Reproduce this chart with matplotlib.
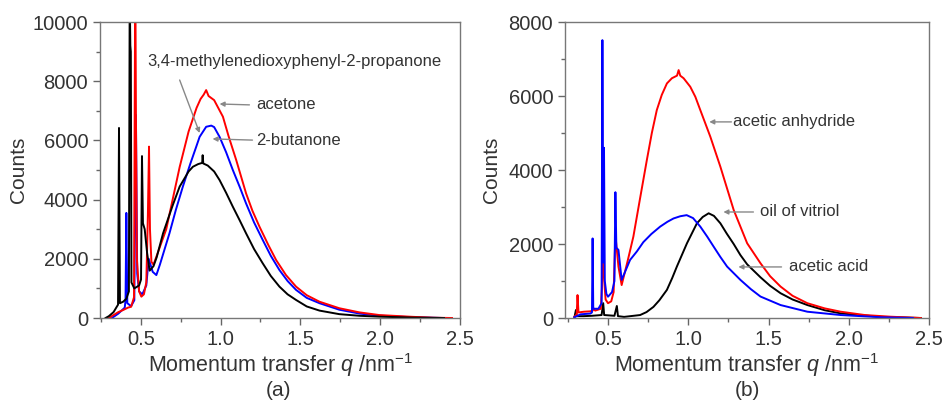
import matplotlib
matplotlib.use("Agg")
import matplotlib.pyplot as plt
from matplotlib.ticker import MultipleLocator, FormatStrFormatter

plt.rcParams['font.family'] = ['Liberation Sans', 'DejaVu Sans']
plt.rcParams['mathtext.fontset'] = 'custom'
plt.rcParams['mathtext.rm'] = 'Liberation Sans'
plt.rcParams['mathtext.it'] = 'Liberation Sans:italic'

# ---------------- Panel (a) data ----------------
qa_black = [0.28, 0.30, 0.33, 0.35, 0.358, 0.364, 0.370, 0.39, 0.41, 0.426, 0.431, 0.435, 0.438, 0.442,
            0.46, 0.49, 0.502, 0.508, 0.514, 0.525, 0.54, 0.556, 0.58, 0.60, 0.64, 0.70, 0.744, 0.80,
            0.827, 0.86, 0.885, 0.888, 0.892, 0.92, 0.96, 0.994, 1.035, 1.077, 1.12, 1.16, 1.21, 1.264,
            1.315, 1.369, 1.42, 1.473, 1.54, 1.62, 1.744, 1.87, 1.994, 2.2, 2.4]
ca_black = [0, 60, 200, 380, 450, 6420, 500, 550, 650, 900, 11000, 9200, 9000, 1200,
            1000, 1100, 1300, 5470, 3200, 3000, 2200, 1600, 1750, 2050, 2860, 3800, 4440, 4950,
            5110, 5200, 5240, 5500, 5220, 5150, 4950, 4660, 4230, 3760, 3300, 2860, 2330, 1850,
            1420, 1060, 800, 610, 390, 250, 130, 75, 45, 15, 0]

qa_red = [0.30, 0.33, 0.36, 0.39, 0.42, 0.44, 0.458, 0.466, 0.470, 0.476, 0.49, 0.504, 0.52, 0.535,
          0.545, 0.552, 0.558, 0.567, 0.58, 0.60, 0.66, 0.70, 0.744, 0.80, 0.85, 0.875, 0.895, 0.91,
          0.925, 0.96, 1.015, 1.05, 1.098, 1.16, 1.20, 1.244, 1.30, 1.348, 1.41, 1.473, 1.54, 1.62,
          1.744, 1.87, 1.994, 2.2, 2.33, 2.45]
ca_red = [0, 100, 200, 270, 350, 380, 700, 12000, 7000, 2000, 900, 720, 800, 1200,
          3500, 5790, 3000, 1900, 1800, 2100, 3000, 4000, 5100, 6300, 7100, 7400, 7550, 7700,
          7500, 7360, 6800, 6150, 5340, 4210, 3620, 3085, 2460, 1960, 1450, 1060, 770, 550,
          330, 190, 100, 40, 10, 0]

qa_blue = [0.32, 0.36, 0.40, 0.405, 0.41, 0.416, 0.44, 0.46, 0.47, 0.478, 0.49, 0.51, 0.535, 0.55,
           0.575, 0.598, 0.62, 0.68, 0.72, 0.764, 0.81, 0.848, 0.869, 0.91, 0.942, 0.96, 0.994,
           1.035, 1.077, 1.12, 1.16, 1.21, 1.264, 1.315, 1.369, 1.42, 1.473, 1.54, 1.62, 1.744,
           1.87, 1.994, 2.2, 2.4]
ca_blue = [0, 150, 350, 600, 3550, 500, 400, 600, 6860, 1500, 900, 800, 1100, 2000,
           1560, 1450, 1800, 2860, 3650, 4440, 5200, 5790, 6120, 6460, 6500, 6450, 6120,
           5600, 5000, 4430, 3870, 3230, 2640, 2100, 1620, 1250, 950, 680, 500, 280,
           150, 80, 25, 0]

# ---------------- Panel (b) data ----------------
qb_red = [0.29, 0.305, 0.31, 0.316, 0.35, 0.39, 0.405, 0.41, 0.42, 0.455, 0.462, 0.467, 0.473, 0.485,
          0.50, 0.52, 0.535, 0.546, 0.556, 0.565, 0.585, 0.62, 0.658, 0.70, 0.742, 0.773, 0.804,
          0.835, 0.867, 0.898, 0.93, 0.94, 0.95, 0.971, 1.0125, 1.044, 1.075, 1.1375, 1.2, 1.283,
          1.367, 1.45, 1.51, 1.575, 1.65, 1.742, 1.85, 1.95, 2.1, 2.26, 2.45]
cb_red = [30, 100, 620, 150, 170, 180, 200, 260, 200, 250, 800, 2700, 1200, 500,
          400, 450, 700, 2240, 1800, 1390, 890, 1500, 2200, 3240, 4270, 5000, 5620,
          6030, 6340, 6480, 6550, 6700, 6550, 6480, 6250, 5980, 5620, 4900, 4090, 2920,
          2020, 1480, 1130, 850, 600, 400, 260, 170, 80, 35, 0]

qb_blue = [0.29, 0.33, 0.39, 0.40, 0.404, 0.408, 0.44, 0.46, 0.465, 0.471, 0.475, 0.48, 0.49, 0.50,
           0.525, 0.54, 0.546, 0.552, 0.565, 0.585, 0.6375, 0.68, 0.72, 0.77, 0.825, 0.87, 0.908,
           0.95, 0.99, 1.03, 1.075, 1.118, 1.158, 1.2, 1.242, 1.325, 1.39, 1.45, 1.575, 1.742,
           1.95, 2.2, 2.4]
cb_blue = [20, 100, 120, 150, 2150, 250, 250, 400, 7510, 1500, 4600, 1000, 650, 575,
           700, 1000, 3400, 1900, 1840, 1030, 1570, 1800, 2050, 2270, 2470, 2600, 2690,
           2750, 2780, 2700, 2470, 2200, 1930, 1650, 1390, 1030, 780, 580, 350, 170,
           80, 20, 0]

qb_black = [0.29, 0.30, 0.305, 0.35, 0.40, 0.46, 0.47, 0.476, 0.54, 0.555, 0.562, 0.60, 0.70, 0.74,
            0.783, 0.82, 0.867, 0.90, 0.929, 0.96, 0.992, 1.054, 1.09, 1.127, 1.16, 1.2, 1.24, 1.283,
            1.325, 1.367, 1.45, 1.51, 1.575, 1.65, 1.742, 1.85, 1.95, 2.2, 2.45]
cb_black = [0, 215, 50, 50, 60, 80, 400, 80, 60, 325, 50, 30, 80, 160,
            300, 480, 760, 1080, 1390, 1700, 2020, 2560, 2730, 2830, 2760, 2560, 2280, 2000,
            1700, 1450, 1100, 870, 670, 500, 350, 210, 125, 30, 0]

xlabel_text = "Momentum transfer $q$ /nm$^{-1}$"
ylabel_text = "Counts"

fig = plt.figure(figsize=(9.46, 4.0), dpi=100)
ax1 = fig.add_axes([100/946, 82/400, 360/946, 296/400])
ax2 = fig.add_axes([565/946, 82/400, 364/946, 296/400])

lw = 1.4
ax1.plot(qa_blue, ca_blue, color='#0000ff', lw=lw)
ax1.plot(qa_red, ca_red, color='#ff0000', lw=lw)
ax1.plot(qa_black, ca_black, color='#000000', lw=lw)

ax2.plot(qb_black, cb_black, color='#000000', lw=lw)
ax2.plot(qb_red, cb_red, color='#ff0000', lw=lw)
ax2.plot(qb_blue, cb_blue, color='#0000ff', lw=lw)

txtc = '#333333'
for ax, xmin, ymax, ystep in [(ax1, 0.245, 10000, 2000), (ax2, 0.232, 8000, 2000)]:
    ax.set_xlim(xmin, 2.5)
    ax.set_ylim(0, ymax)
    ax.xaxis.set_major_locator(MultipleLocator(0.5))
    ax.xaxis.set_minor_locator(MultipleLocator(0.25))
    ax.yaxis.set_major_locator(MultipleLocator(ystep))
    ax.yaxis.set_minor_locator(MultipleLocator(ystep/2))
    ax.tick_params(which='major', direction='out', length=5, width=1, color='#666666',
                   labelsize=14.5, labelcolor=txtc)
    ax.tick_params(which='minor', direction='out', length=3, width=1, color='#666666')
    ax.xaxis.set_major_formatter(FormatStrFormatter('%.1f'))
    for s in ax.spines.values():
        s.set_color('#777777')
        s.set_linewidth(1.0)
    ax.set_ylabel(ylabel_text, fontsize=15, color=txtc)

ax1.yaxis.set_label_coords(-72/360, 0.5)
ax2.yaxis.set_label_coords(-64/364, 0.5)

fig.text(280/946, 1-365/400, xlabel_text, ha='center', va='center', fontsize=15.5, color=txtc)
fig.text(278/946, 1-390/400, "(a)", ha='center', va='center', fontsize=15, color=txtc)
fig.text(746/946, 1-365/400, xlabel_text, ha='center', va='center', fontsize=15.5, color=txtc)
fig.text(747/946, 1-390/400, "(b)", ha='center', va='center', fontsize=15, color=txtc)

# annotations
afs = 12
def leader(ax, start, end):
    ax.annotate("", xy=end, xytext=start,
                arrowprops=dict(arrowstyle='-|>', color='#888888', lw=1.0,
                                mutation_scale=7, shrinkA=0, shrinkB=0))

ax1.text(0.544, 8650, "3,4-methylenedioxyphenyl-2-propanone", fontsize=afs, color=txtc, va='center')
ax1.text(1.225, 7200, "acetone", fontsize=afs, color=txtc, va='center')
ax1.text(1.225, 5980, "2-butanone", fontsize=afs, color=txtc, va='center')
leader(ax1, (1.181, 7200), (0.994, 7230))
leader(ax1, (1.20, 6010), (0.95, 6050))
leader(ax1, (0.744, 8040), (0.869, 6250))

ax2.text(1.281, 5320, "acetic anhydride", fontsize=afs, color=txtc, va='center')
ax2.text(1.444, 2865, "oil of vitriol", fontsize=afs, color=txtc, va='center')
ax2.text(1.625, 1380, "acetic acid", fontsize=afs, color=txtc, va='center')
leader(ax2, (1.269, 5300), (1.131, 5300))
leader(ax2, (1.406, 2865), (1.219, 2865))
leader(ax2, (1.581, 1380), (1.3125, 1380))

fig.savefig("out.png", dpi=100)
